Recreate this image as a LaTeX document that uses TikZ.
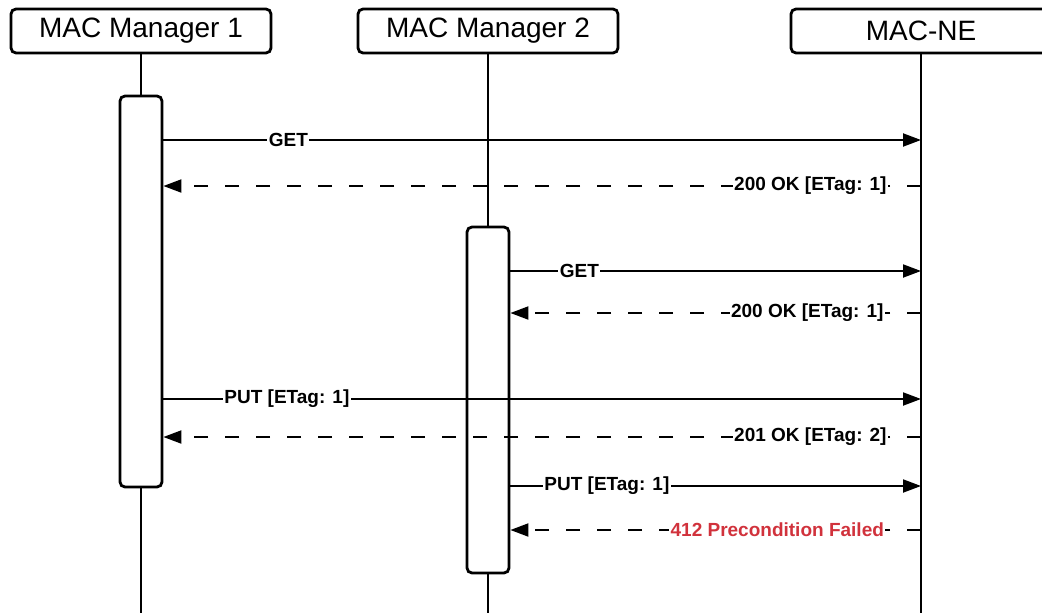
\documentclass[tikz,border=0pt]{standalone}
\usepackage{fontspec}
\setmainfont{Liberation Sans}
\usetikzlibrary{arrows.meta}
\definecolor{failred}{RGB}{209,50,60}

\begin{document}
\begin{tikzpicture}[x=1pt,y=-1pt,>={Triangle[length=18pt,width=13pt]},
		actor/.style={draw,line width=2.8pt,rounded corners=5pt,fill=white,minimum width=260pt,minimum height=44pt,inner sep=0pt,font=\fontsize{28}{30}\selectfont},
		activation/.style={draw,line width=2.8pt,rounded corners=5pt,fill=white,minimum width=42pt,inner sep=0pt},
		lifeline/.style={line width=2pt},
		msg/.style={line width=2pt,->},
		reply/.style={msg,dash pattern=on 14pt off 17pt},
		lbl/.style={fill=white,inner xsep=1.5pt,inner ysep=1pt,font=\fontsize{19}{21}\selectfont\bfseries}]
		\clip (0,0) rectangle (1042,613);
		
		\node[actor] (mm1) at (141,31) {MAC Manager 1};
		\node[actor] (mm2) at (488,31) {MAC Manager 2};
		\node[actor] (ne) at (921,31) {MAC-NE};
		
		\draw[lifeline] (mm1.south) -- (mm1 |- 0,620);
		\draw[lifeline] (mm2.south) -- (mm2 |- 0,620);
		\draw[lifeline] (ne.south) -- (ne |- 0,620);
		
		\node[activation,minimum height=391pt] (act1) at (141,291.5) {};
		\node[activation,minimum height=346pt] (act2) at (488,400) {};
		
		\draw[msg] (act1.east |- 0,140) -- node[lbl,pos=0.165] {GET} (ne |- 0,140);
		\draw[reply] (ne |- 0,186) -- node[lbl,pos=0.146] {200 OK [ETag: 1]} (act1.east |- 0,186);
		\draw[msg] (act2.east |- 0,271) -- node[lbl,pos=0.168] {GET} (ne |- 0,271);
		\draw[reply] (ne |- 0,313) -- node[lbl,pos=0.277] {200 OK [ETag: 1]} (act2.east |- 0,313);
		\draw[msg] (act1.east |- 0,399) -- node[lbl,pos=0.163] {PUT [ETag: 1]} (ne |- 0,399);
		\draw[reply] (ne |- 0,437) -- node[lbl,pos=0.146] {201 OK [ETag: 2]} (act1.east |- 0,437);
		\draw[msg] (act2.east |- 0,486) -- node[lbl,pos=0.235] {PUT [ETag: 1]} (ne |- 0,486);
		\draw[reply] (ne |- 0,530) -- node[lbl,pos=0.35,text=failred] {412 Precondition Failed} (act2.east |- 0,530);
	\end{tikzpicture}
\end{document}
